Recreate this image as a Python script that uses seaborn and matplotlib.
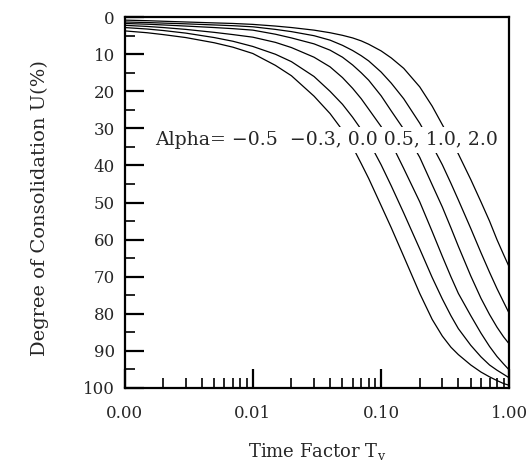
import pandas as pd
import seaborn as sns
import matplotlib.pyplot as plt
from matplotlib.ticker import FixedLocator, LogLocator, NullFormatter, MultipleLocator


# Значения
time_factor = [0.001, 0.0015, 0.002, 0.003, 0.005, 0.007, 0.01, 0.015, 0.02, 0.03,
               0.04, 0.05, 0.06, 0.07, 0.08, 0.1, 0.12, 0.15, 0.2, 0.25,
               0.3, 0.35, 0.4, 0.5, 0.6, 0.7, 0.8, 0.9, 1.0]
u_m05 = [3.7, 4.2, 4.7, 5.5, 6.9, 8.1, 9.8, 13.0, 15.8, 21.3,
         26.0, 30.5, 35.0, 39.5, 43.5, 50.8, 56.8, 64.5, 74.5, 81.5,
         86.0, 89.0, 91.0, 93.8, 95.7, 97.0, 98.0, 98.8, 99.3]
u_m03 = [2.8, 3.2, 3.6, 4.3, 5.5, 6.5, 7.9, 10.0, 12.0, 16.0,
         20.0, 23.5, 27.0, 30.3, 33.5, 39.8, 45.5, 52.8, 62.5, 70.2,
         76.0, 80.5, 84.0, 88.5, 91.6, 93.8, 95.2, 96.3, 97.3]
u_00 = [2.2, 2.5, 2.8, 3.3, 4.1, 4.7, 5.4, 6.8, 8.2, 10.8,
        13.4, 16.3, 19.2, 22.0, 24.8, 29.5, 34.0, 40.8, 49.8, 57.8,
        64.5, 70.0, 74.5, 80.5, 85.2, 88.8, 91.5, 93.5, 95.2]
u_05 = [1.7, 1.9, 2.1, 2.4, 2.8, 3.1, 3.5, 4.6, 5.6, 7.2,
        8.9, 10.8, 12.9, 15.0, 17.0, 21.2, 25.3, 30.2, 37.8, 45.2,
        51.2, 56.8, 61.8, 69.8, 75.8, 80.2, 83.6, 86.2, 88.2]
u_10 = [1.3, 1.45, 1.6, 1.8, 2.1, 2.3, 2.6, 3.3, 3.9, 5.0,
        6.2, 7.6, 9.0, 10.4, 11.8, 14.8, 17.8, 22.0, 28.6, 34.6,
        39.8, 44.8, 49.3, 57.0, 63.5, 68.8, 73.2, 76.8, 80.0]
u_20 = [0.8, 0.95, 1.1, 1.3, 1.55, 1.7, 1.95, 2.4, 2.8, 3.5,
        4.2, 4.9, 5.6, 6.4, 7.3, 9.1, 11.0, 13.8, 18.8, 24.0,
        29.0, 33.2, 36.9, 43.8, 49.8, 55.0, 60.0, 64.0, 67.5]

alphas = ["-0.5", "-0.3", "0.0", "0.5", "1.0", "2.0"]
curves = [u_m05, u_m03, u_00, u_05, u_10, u_20]

x_ticks = [0.001, 0.01, 0.1, 1.0]
x_labels = ["0.00", "0.01", "0.10", "1.00"]
y_ticks = [0, 10, 20, 30, 40, 50, 60, 70, 80, 90, 100]

df = pd.concat(
    [pd.DataFrame({"T": time_factor, "U": u, "alpha": a}) for a, u in zip(alphas, curves)],
    ignore_index=True,
)

sns.set_style("ticks")
plt.rcParams["font.family"] = ["DejaVu Serif"]
plt.rcParams["mathtext.fontset"] = "dejavuserif"

fig = plt.figure(figsize=(5.28, 4.70), dpi=100)
ax = fig.add_axes([0.2358, 0.1745, 0.729, 0.789])

sns.lineplot(
    data=df, x="T", y="U", hue="alpha",
    palette=["black"] * len(alphas), linewidth=0.9,
    legend=False, ax=ax, sort=False,
)

ax.set_xscale("log")
ax.set_xlim(0.001, 1.0)
ax.set_ylim(100, 0)

ax.xaxis.set_major_locator(FixedLocator(x_ticks))
ax.set_xticklabels(x_labels)
ax.xaxis.set_minor_locator(LogLocator(base=10, subs=range(2, 10)))
ax.xaxis.set_minor_formatter(NullFormatter())
ax.set_yticks(y_ticks)
ax.yaxis.set_minor_locator(MultipleLocator(5))

ax.tick_params(axis="both", which="major", direction="in", length=14, width=1.6,
               labelsize=12, color="black")
ax.tick_params(axis="both", which="minor", direction="in", length=7, width=1.2, color="black")
ax.tick_params(axis="x", which="both", pad=12)
ax.tick_params(axis="y", which="both", pad=7)

for s in ax.spines.values():
    s.set_linewidth(1.6)
    s.set_color("black")

ax.text(0.079, 0.668, "Alpha= \u22120.5  \u22120.3, 0.0 0.5, 1.0, 2.0",
        transform=ax.transAxes, fontsize=13.6, va="center", ha="left",
        bbox=dict(facecolor="white", edgecolor="none", pad=3))

ax.set_xlabel(r"Time Factor T$_\mathrm{v}$", fontsize=13, labelpad=14)
ax.set_ylabel("Degree of Consolidation U(%)", fontsize=14)
ax.yaxis.set_label_coords(-0.196, 0.485)

fig.savefig("out.png", dpi=100)
